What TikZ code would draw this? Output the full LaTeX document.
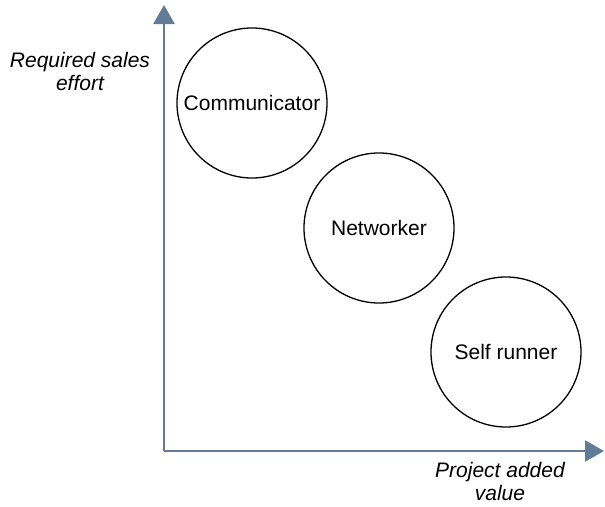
\documentclass[tikz,border=0pt]{standalone}
\usepackage{fontspec}
\setmainfont{Liberation Sans}
\usepackage{tikz}
\usetikzlibrary{arrows.meta}
\definecolor{axisblue}{RGB}{96,124,153}

\begin{document}
\begin{tikzpicture}[x=1pt,y=-1pt]
  \tikzstyle{role} = [circle, draw, line width=1.3pt, minimum size=150pt, inner sep=0pt, font=\fontsize{21}{24}\selectfont]
  \tikzstyle{axis} = [line width=2.5pt, draw=axisblue, -{Triangle[length=19pt,width=21pt,fill=axisblue]}]
  \tikzstyle{lbl} = [align=center, font=\fontsize{21}{23}\selectfont\itshape]
  \useasboundingbox (0,0) rectangle (605,506);

  \coordinate (o) at (164,451);
  \coordinate (ytop) at (164,5);
  \coordinate (xend) at (604,451);

  \node[role](com) at (252,103){Communicator};
  \node[role](net) at (379,228){Networker};
  \node[role](self) at (506,352){Self runner};

  \node[lbl](ylab) at (80,71){Required sales\\effort};
  \node[lbl](xlab) at (500,481){Project added\\value};

  \draw[axis](o)--(ytop);
  \draw[axis](o)--(xend);

  \end{tikzpicture}
\end{document}
